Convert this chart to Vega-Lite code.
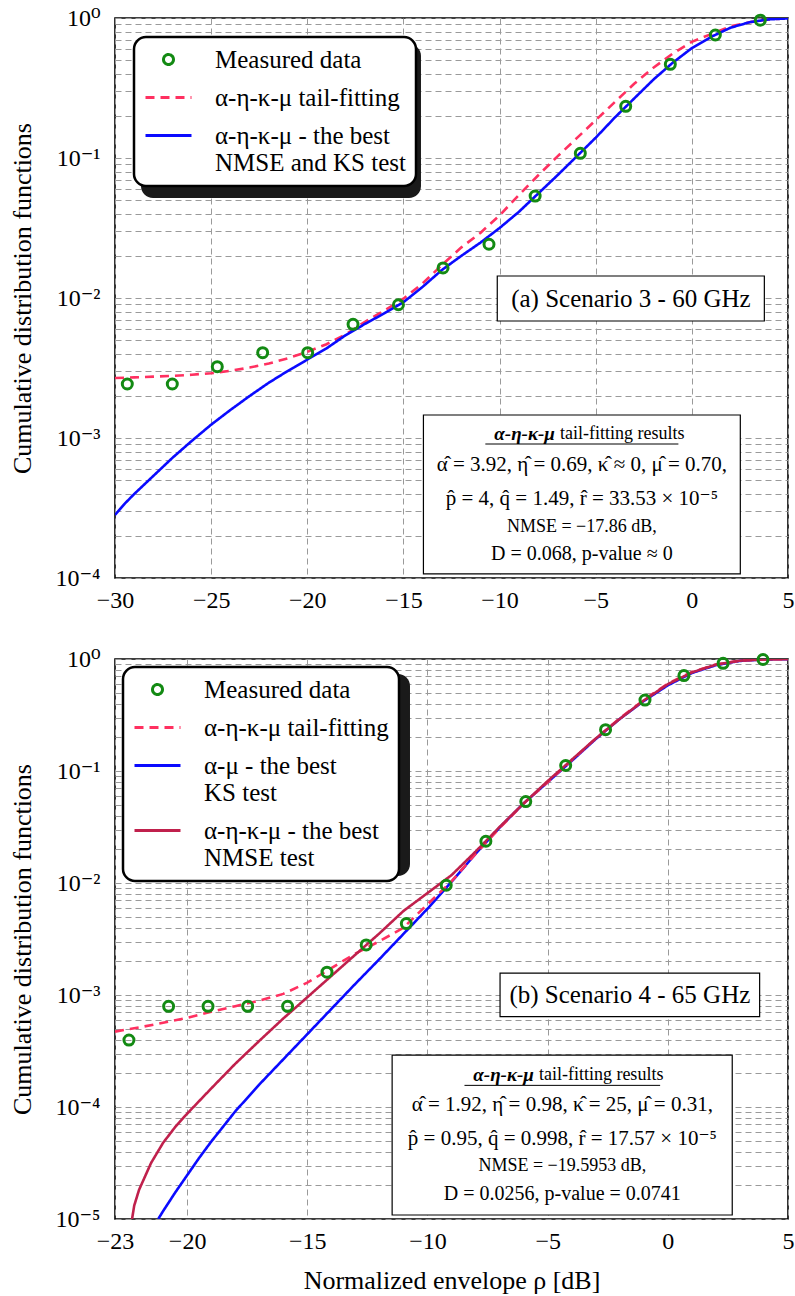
{
  "$schema": "https://vega.github.io/schema/vega-lite/v6.json",
  "padding": {"left": 9, "top": 5, "right": 5, "bottom": 5},
  "config": {
    "font": "Liberation Serif, Times New Roman, DejaVu Serif, serif",
    "view": {"stroke": "black", "strokeWidth": 1.6},
    "axis": {
      "labelFont": "Liberation Serif, Times New Roman, DejaVu Serif, serif", "labelFontSize": 24, "labelColor": "black",
      "titleFont": "Liberation Serif, Times New Roman, DejaVu Serif, serif", "titleFontSize": 26, "titleFontWeight": "normal", "titleColor": "black",
      "domain": false, "ticks": false, "grid": true, "gridColor": "#9a9a9a", "gridDash": [6, 4], "gridWidth": 1,
      "labelFlush": false, "labelOverlap": false
    },
    "legend": {
      "labelFont": "Liberation Serif, Times New Roman, DejaVu Serif, serif", "labelFontSize": 25, "labelColor": "black",
      "strokeColor": "black", "fillColor": "white", "cornerRadius": 12, "strokeWidth": 2.5,
      "padding": 10, "rowPadding": -6, "labelOffset": 22, "symbolStrokeWidth": 3, "labelLimit": 500
    },
    "text": {"font": "Liberation Serif, Times New Roman, DejaVu Serif, serif"}
  },
  "datasets": {
    "topCurves": [
      {"x": -30, "y": 0.002685, "series": "tail"}, {"x": -29, "y": 0.00271, "series": "tail"}, {"x": -28, "y": 0.002742, "series": "tail"}, {"x": -27, "y": 0.00278, "series": "tail"}, {"x": -26, "y": 0.002831, "series": "tail"}, {"x": -25, "y": 0.002904, "series": "tail"}, {"x": -24, "y": 0.00302, "series": "tail"}, {"x": -23, "y": 0.003184, "series": "tail"}, {"x": -22, "y": 0.003404, "series": "tail"}, {"x": -21, "y": 0.003715, "series": "tail"}, {"x": -20, "y": 0.004121, "series": "tail"}, {"x": -19, "y": 0.004677, "series": "tail"}, {"x": -18, "y": 0.005495, "series": "tail"}, {"x": -17, "y": 0.006761, "series": "tail"}, {"x": -16, "y": 0.008128, "series": "tail"}, {"x": -15, "y": 0.009886, "series": "tail"}, {"x": -14, "y": 0.01274, "series": "tail"}, {"x": -13, "y": 0.01718, "series": "tail"}, {"x": -12, "y": 0.02291, "series": "tail"}, {"x": -11, "y": 0.02917, "series": "tail"}, {"x": -10, "y": 0.0389, "series": "tail"}, {"x": -9, "y": 0.05433, "series": "tail"}, {"x": -8, "y": 0.07499, "series": "tail"}, {"x": -7, "y": 0.1023, "series": "tail"}, {"x": -6, "y": 0.138, "series": "tail"}, {"x": -5, "y": 0.1862, "series": "tail"}, {"x": -4, "y": 0.2512, "series": "tail"}, {"x": -3, "y": 0.3388, "series": "tail"}, {"x": -2, "y": 0.4416, "series": "tail"}, {"x": -1, "y": 0.5559, "series": "tail"}, {"x": 0, "y": 0.6761, "series": "tail"}, {"x": 1, "y": 0.7674, "series": "tail"}, {"x": 2, "y": 0.871, "series": "tail"}, {"x": 3, "y": 0.9333, "series": "tail"}, {"x": 4, "y": 0.9772, "series": "tail"}, {"x": 5, "y": 0.9931, "series": "tail"},
      {"x": -30, "y": 0.0002818, "series": "best"}, {"x": -29.5, "y": 0.0003388, "series": "best"}, {"x": -29, "y": 0.0003981, "series": "best"}, {"x": -28, "y": 0.000537, "series": "best"}, {"x": -27, "y": 0.0007244, "series": "best"}, {"x": -26, "y": 0.000955, "series": "best"}, {"x": -25, "y": 0.001245, "series": "best"}, {"x": -24, "y": 0.001585, "series": "best"}, {"x": -23, "y": 0.001995, "series": "best"}, {"x": -22, "y": 0.002483, "series": "best"}, {"x": -21, "y": 0.00302, "series": "best"}, {"x": -20, "y": 0.003631, "series": "best"}, {"x": -19, "y": 0.004365, "series": "best"}, {"x": -18, "y": 0.005433, "series": "best"}, {"x": -17, "y": 0.006531, "series": "best"}, {"x": -16, "y": 0.007762, "series": "best"}, {"x": -15, "y": 0.009333, "series": "best"}, {"x": -14, "y": 0.01202, "series": "best"}, {"x": -13, "y": 0.01585, "series": "best"}, {"x": -12, "y": 0.01995, "series": "best"}, {"x": -11, "y": 0.02483, "series": "best"}, {"x": -10, "y": 0.03162, "series": "best"}, {"x": -9, "y": 0.04121, "series": "best"}, {"x": -8, "y": 0.05559, "series": "best"}, {"x": -7, "y": 0.07499, "series": "best"}, {"x": -6, "y": 0.1023, "series": "best"}, {"x": -5, "y": 0.1396, "series": "best"}, {"x": -4, "y": 0.195, "series": "best"}, {"x": -3, "y": 0.2661, "series": "best"}, {"x": -2, "y": 0.3631, "series": "best"}, {"x": -1, "y": 0.4786, "series": "best"}, {"x": 0, "y": 0.6095, "series": "best"}, {"x": 1, "y": 0.7328, "series": "best"}, {"x": 2, "y": 0.8511, "series": "best"}, {"x": 3, "y": 0.9333, "series": "best"}, {"x": 4, "y": 0.9772, "series": "best"}, {"x": 5, "y": 0.9931, "series": "best"}
    ],
    "topMeas": [
      {"x": -29.36, "y": 0.00243, "series": "meas"}, {"x": -27.02, "y": 0.00243, "series": "meas"}, {"x": -24.68, "y": 0.00323, "series": "meas"}, {"x": -22.32, "y": 0.00407, "series": "meas"}, {"x": -19.98, "y": 0.00407, "series": "meas"}, {"x": -17.62, "y": 0.00649, "series": "meas"}, {"x": -15.26, "y": 0.00895, "series": "meas"}, {"x": -12.94, "y": 0.0164, "series": "meas"}, {"x": -10.55, "y": 0.0242, "series": "meas"}, {"x": -8.15, "y": 0.0535, "series": "meas"}, {"x": -5.8, "y": 0.108, "series": "meas"}, {"x": -3.44, "y": 0.234, "series": "meas"}, {"x": -1.12, "y": 0.467, "series": "meas"}, {"x": 1.22, "y": 0.756, "series": "meas"}, {"x": 3.56, "y": 0.965, "series": "meas"}
    ],
    "botCurves": [
      {"x": -21.2, "y": 0.00001, "series": "am"}, {"x": -21, "y": 0.00001175, "series": "am"}, {"x": -20.5, "y": 0.00001718, "series": "am"}, {"x": -20, "y": 0.00002455, "series": "am"}, {"x": -19.5, "y": 0.00003508, "series": "am"}, {"x": -19, "y": 0.00004898, "series": "am"}, {"x": -18, "y": 0.0000912, "series": "am"}, {"x": -17, "y": 0.0001585, "series": "am"}, {"x": -16, "y": 0.0002661, "series": "am"}, {"x": -15, "y": 0.0004467, "series": "am"}, {"x": -14, "y": 0.0007499, "series": "am"}, {"x": -13, "y": 0.001259, "series": "am"}, {"x": -12, "y": 0.002089, "series": "am"}, {"x": -11, "y": 0.003508, "series": "am"}, {"x": -10, "y": 0.005888, "series": "am"}, {"x": -9, "y": 0.01023, "series": "am"}, {"x": -8, "y": 0.0182, "series": "am"}, {"x": -7, "y": 0.03126, "series": "am"}, {"x": -6, "y": 0.05129, "series": "am"}, {"x": -5, "y": 0.07943, "series": "am"}, {"x": -4, "y": 0.123, "series": "am"}, {"x": -3, "y": 0.1928, "series": "am"}, {"x": -2, "y": 0.2917, "series": "am"}, {"x": -1, "y": 0.4217, "series": "am"}, {"x": 0, "y": 0.5821, "series": "am"}, {"x": 1, "y": 0.7499, "series": "am"}, {"x": 2, "y": 0.881, "series": "am"}, {"x": 3, "y": 0.9616, "series": "am"}, {"x": 4, "y": 0.9908, "series": "am"}, {"x": 5, "y": 0.9977, "series": "am"},
      {"x": -23, "y": 0.000471, "series": "tail"}, {"x": -22, "y": 0.0005129, "series": "tail"}, {"x": -21, "y": 0.0005649, "series": "tail"}, {"x": -20, "y": 0.0006237, "series": "tail"}, {"x": -19, "y": 0.0007079, "series": "tail"}, {"x": -18, "y": 0.0007943, "series": "tail"}, {"x": -17, "y": 0.0008913, "series": "tail"}, {"x": -16, "y": 0.001023, "series": "tail"}, {"x": -15, "y": 0.001288, "series": "tail"}, {"x": -14, "y": 0.001738, "series": "tail"}, {"x": -13, "y": 0.002344, "series": "tail"}, {"x": -12, "y": 0.00302, "series": "tail"}, {"x": -11, "y": 0.003981, "series": "tail"}, {"x": -10, "y": 0.006457, "series": "tail"}, {"x": -9, "y": 0.01035, "series": "tail"}, {"x": -8, "y": 0.0182, "series": "tail"}, {"x": -7, "y": 0.0309, "series": "tail"}, {"x": -6, "y": 0.05129, "series": "tail"}, {"x": -5, "y": 0.07943, "series": "tail"}, {"x": -4, "y": 0.1245, "series": "tail"}, {"x": -3, "y": 0.195, "series": "tail"}, {"x": -2, "y": 0.2951, "series": "tail"}, {"x": -1, "y": 0.4315, "series": "tail"}, {"x": 0, "y": 0.6026, "series": "tail"}, {"x": 1, "y": 0.7674, "series": "tail"}, {"x": 2, "y": 0.8913, "series": "tail"}, {"x": 3, "y": 0.9661, "series": "tail"}, {"x": 4, "y": 0.9908, "series": "tail"}, {"x": 5, "y": 0.9977, "series": "tail"},
      {"x": -22.29, "y": 0.00001, "series": "aekm"}, {"x": -22.2, "y": 0.00001318, "series": "aekm"}, {"x": -22, "y": 0.0000182, "series": "aekm"}, {"x": -21.5, "y": 0.00003162, "series": "aekm"}, {"x": -21, "y": 0.00004786, "series": "aekm"}, {"x": -20.5, "y": 0.00006607, "series": "aekm"}, {"x": -20, "y": 0.0000871, "series": "aekm"}, {"x": -19, "y": 0.0001462, "series": "aekm"}, {"x": -18, "y": 0.0002427, "series": "aekm"}, {"x": -17, "y": 0.000389, "series": "aekm"}, {"x": -16, "y": 0.0006166, "series": "aekm"}, {"x": -15, "y": 0.000955, "series": "aekm"}, {"x": -14, "y": 0.001479, "series": "aekm"}, {"x": -13, "y": 0.002291, "series": "aekm"}, {"x": -12, "y": 0.003548, "series": "aekm"}, {"x": -11, "y": 0.005623, "series": "aekm"}, {"x": -10, "y": 0.008128, "series": "aekm"}, {"x": -9, "y": 0.01175, "series": "aekm"}, {"x": -8, "y": 0.01905, "series": "aekm"}, {"x": -7, "y": 0.03162, "series": "aekm"}, {"x": -6, "y": 0.05129, "series": "aekm"}, {"x": -5, "y": 0.08128, "series": "aekm"}, {"x": -4, "y": 0.1259, "series": "aekm"}, {"x": -3, "y": 0.195, "series": "aekm"}, {"x": -2, "y": 0.2917, "series": "aekm"}, {"x": -1, "y": 0.4266, "series": "aekm"}, {"x": 0, "y": 0.5957, "series": "aekm"}, {"x": 1, "y": 0.7586, "series": "aekm"}, {"x": 2, "y": 0.8913, "series": "aekm"}, {"x": 3, "y": 0.9661, "series": "aekm"}, {"x": 4, "y": 0.9908, "series": "aekm"}, {"x": 5, "y": 0.9977, "series": "aekm"}
    ],
    "botMeas": [
      {"x": -22.42, "y": 0.000396, "series": "meas"}, {"x": -20.77, "y": 0.000793, "series": "meas"}, {"x": -19.13, "y": 0.000793, "series": "meas"}, {"x": -17.48, "y": 0.000793, "series": "meas"}, {"x": -15.82, "y": 0.000793, "series": "meas"}, {"x": -14.18, "y": 0.0016, "series": "meas"}, {"x": -12.55, "y": 0.0028, "series": "meas"}, {"x": -10.88, "y": 0.00434, "series": "meas"}, {"x": -9.22, "y": 0.00955, "series": "meas"}, {"x": -7.57, "y": 0.0236, "series": "meas"}, {"x": -5.91, "y": 0.0533, "series": "meas"}, {"x": -4.25, "y": 0.112, "series": "meas"}, {"x": -2.59, "y": 0.234, "series": "meas"}, {"x": -0.95, "y": 0.43, "series": "meas"}, {"x": 0.67, "y": 0.711, "series": "meas"}, {"x": 2.3, "y": 0.915, "series": "meas"}, {"x": 3.96, "y": 0.99, "series": "meas"}
    ]
  },
  "spacing": 81,
  "bounds": "flush",
  "resolve": {
    "scale": {"color": "independent", "strokeDash": "independent", "shape": "independent", "size": "independent"},
    "legend": {"color": "independent", "strokeDash": "independent", "shape": "independent", "size": "independent"}
  },
  "vconcat": [
    {
      "width": 673, "height": 560,
      "layer": [
        {
          "data": {"values": [{}]},
          "mark": {"type": "rect", "fill": "#1a1a1a", "cornerRadius": 12},
          "encoding": {"x": {"datum": -28.648}, "x2": {"datum": -14.087}, "y": {"datum": 0.652}, "y2": {"datum": 0.05179}}
        },
        {
          "data": {"name": "topCurves"},
          "mark": {"type": "line", "strokeWidth": 2.6, "clip": true},
          "encoding": {
            "x": {"field": "x", "type": "quantitative", "scale": {"domain": [-30, 5], "nice": false, "zero": false},
                  "axis": {"values": [-30, -25, -20, -15, -10, -5, 0, 5], "title": null, "labelPadding": 10}},
            "y": {"field": "y", "type": "quantitative", "scale": {"type": "log", "domain": [0.0001, 1], "nice": false},
                  "axis": {"title": "Cumulative distribution functions", "labelPadding": 15, "titlePadding": 19,
                           "values": [0.0001, 0.0002, 0.0003, 0.0004, 0.0005, 0.0006, 0.0007, 0.0008, 0.0009, 0.001, 0.002, 0.003, 0.004, 0.005, 0.006, 0.007, 0.008, 0.009, 0.01, 0.02, 0.03, 0.04, 0.05, 0.06, 0.07, 0.08, 0.09, 0.1, 0.2, 0.3, 0.4, 0.5, 0.6, 0.7, 0.8, 0.9, 1],
                           "labelExpr": "datum.value == 1 ? '10⁰' : datum.value == 0.1 ? '10⁻¹' : datum.value == 0.01 ? '10⁻²' : datum.value == 0.001 ? '10⁻³' : datum.value == 0.0001 ? '10⁻⁴' : ''"}},
            "color": {"field": "series", "type": "nominal",
                      "scale": {"domain": ["meas", "tail", "best"], "range": ["#138a13", "#ff3060", "#0a0aff"]},
                      "legend": {"title": null, "orient": "top-left", "offset": 19, "zindex": 1,
                                 "labelExpr": "datum.label == 'meas' ? 'Measured data' : datum.label == 'tail' ? 'α-η-κ-μ tail-fitting' : ['α-η-κ-μ - the best', 'NMSE and KS test']"}},
            "strokeDash": {"field": "series", "type": "nominal",
                           "scale": {"domain": ["meas", "tail", "best"], "range": [[1, 0], [9, 6], [1, 0]]},
                           "legend": {"title": null, "orient": "top-left", "offset": 19, "zindex": 1,
                                      "labelExpr": "datum.label == 'meas' ? 'Measured data' : datum.label == 'tail' ? 'α-η-κ-μ tail-fitting' : ['α-η-κ-μ - the best', 'NMSE and KS test']"}}
          }
        },
        {
          "data": {"name": "topMeas"},
          "mark": {"type": "point", "filled": false, "strokeWidth": 3, "opacity": 1},
          "encoding": {
            "x": {"field": "x", "type": "quantitative"},
            "y": {"field": "y", "type": "quantitative"},
            "color": {"field": "series", "type": "nominal",
                      "scale": {"domain": ["meas", "tail", "best"], "range": ["#138a13", "#ff3060", "#0a0aff"]},
                      "legend": {"title": null, "orient": "top-left", "offset": 19, "zindex": 1,
                                 "labelExpr": "datum.label == 'meas' ? 'Measured data' : datum.label == 'tail' ? 'α-η-κ-μ tail-fitting' : ['α-η-κ-μ - the best', 'NMSE and KS test']"}},
            "shape": {"field": "series", "type": "nominal",
                      "scale": {"domain": ["meas", "tail", "best"], "range": ["circle", "stroke", "stroke"]},
                      "legend": {"title": null, "orient": "top-left", "offset": 19, "zindex": 1,
                                 "labelExpr": "datum.label == 'meas' ? 'Measured data' : datum.label == 'tail' ? 'α-η-κ-μ tail-fitting' : ['α-η-κ-μ - the best', 'NMSE and KS test']"}},
            "size": {"field": "series", "type": "nominal",
                     "scale": {"type": "ordinal", "domain": ["meas", "tail", "best"], "range": [100, 2116, 2116]},
                     "legend": {"title": null, "orient": "top-left", "offset": 19, "zindex": 1,
                                "labelExpr": "datum.label == 'meas' ? 'Measured data' : datum.label == 'tail' ? 'α-η-κ-μ tail-fitting' : ['α-η-κ-μ - the best', 'NMSE and KS test']"}}
          }
        },
        {
          "data": {"values": [{}]},
          "mark": {"type": "rect", "fill": "white", "stroke": "black", "strokeWidth": 1.2},
          "encoding": {"x": {"datum": -10.12}, "x2": {"datum": 3.77}, "y": {"datum": 0.01436}, "y2": {"datum": 0.00685}}
        },
        {
          "data": {"values": [{}]},
          "mark": {"type": "text", "text": "(a) Scenario 3 - 60 GHz", "fontSize": 25, "align": "center", "baseline": "middle", "color": "black"},
          "encoding": {"x": {"datum": -3.17}, "y": {"datum": 0.0099}}
        },
        {
          "data": {"values": [{}]},
          "mark": {"type": "rect", "fill": "white", "stroke": "black", "strokeWidth": 1.2},
          "encoding": {"x": {"datum": -13.96}, "x2": {"datum": 2.52}, "y": {"datum": 0.00146}, "y2": {"datum": 0.000107}}
        },
        {
          "data": {"values": [{}]},
          "mark": {"type": "text", "text": "α-η-κ-μ", "fontSize": 19, "fontStyle": "italic", "fontWeight": "bold", "align": "right", "baseline": "middle", "dx": -1, "color": "black"},
          "encoding": {"x": {"datum": -7.07}, "y": {"datum": 0.001069}}
        },
        {
          "data": {"values": [{}]},
          "mark": {"type": "text", "text": "tail-fitting results", "fontSize": 18, "align": "left", "baseline": "middle", "dx": 4, "color": "black"},
          "encoding": {"x": {"datum": -7.07}, "y": {"datum": 0.001069}}
        },
        {
          "data": {"values": [{}]},
          "mark": {"type": "rule", "stroke": "black", "strokeWidth": 1},
          "encoding": {"x": {"datum": -10.74}, "x2": {"datum": -0.7}, "y": {"datum": 0.000906}}
        },
        {
          "data": {"values": [{}]},
          "mark": {"type": "text", "text": "α̂ = 3.92, η̂ = 0.69, κ̂ ≈ 0, μ̂ = 0.70,", "fontSize": 21, "align": "center", "baseline": "middle", "color": "black"},
          "encoding": {"x": {"datum": -5.72}, "y": {"datum": 0.000641}}
        },
        {
          "data": {"values": [{}]},
          "mark": {"type": "text", "text": "p̂ = 4, q̂ = 1.49, r̂ = 33.53 × 10⁻⁵", "fontSize": 21, "align": "center", "baseline": "middle", "color": "black"},
          "encoding": {"x": {"datum": -5.72}, "y": {"datum": 0.000367}}
        },
        {
          "data": {"values": [{}]},
          "mark": {"type": "text", "text": "NMSE = −17.86 dB,", "fontSize": 18, "align": "center", "baseline": "middle", "color": "black"},
          "encoding": {"x": {"datum": -5.72}, "y": {"datum": 0.000231}}
        },
        {
          "data": {"values": [{}]},
          "mark": {"type": "text", "text": "D = 0.068, p-value ≈ 0", "fontSize": 20, "align": "center", "baseline": "middle", "color": "black"},
          "encoding": {"x": {"datum": -5.72}, "y": {"datum": 0.000148}}
        }
      ]
    },
    {
      "width": 673, "height": 560,
      "layer": [
        {
          "data": {"values": [{}]},
          "mark": {"type": "rect", "fill": "#1a1a1a", "cornerRadius": 12},
          "encoding": {"x": {"datum": -22.376}, "x2": {"datum": -10.727}, "y": {"datum": 0.7347}, "y2": {"datum": 0.011548}}
        },
        {
          "data": {"name": "botCurves"},
          "mark": {"type": "line", "strokeWidth": 2.6, "clip": true},
          "encoding": {
            "x": {"field": "x", "type": "quantitative", "scale": {"domain": [-23, 5], "nice": false, "zero": false},
                  "axis": {"values": [-23, -20, -15, -10, -5, 0, 5], "title": "Normalized envelope ρ [dB]", "labelPadding": 10, "titlePadding": 14}},
            "y": {"field": "y", "type": "quantitative", "scale": {"type": "log", "domain": [0.00001, 1], "nice": false},
                  "axis": {"title": "Cumulative distribution functions", "labelPadding": 15, "titlePadding": 19,
                           "values": [0.00001, 0.00002, 0.00003, 0.00004, 0.00005, 0.00006, 0.00007, 0.00008, 0.00009, 0.0001, 0.0002, 0.0003, 0.0004, 0.0005, 0.0006, 0.0007, 0.0008, 0.0009, 0.001, 0.002, 0.003, 0.004, 0.005, 0.006, 0.007, 0.008, 0.009, 0.01, 0.02, 0.03, 0.04, 0.05, 0.06, 0.07, 0.08, 0.09, 0.1, 0.2, 0.3, 0.4, 0.5, 0.6, 0.7, 0.8, 0.9, 1],
                           "labelExpr": "datum.value == 1 ? '10⁰' : datum.value == 0.1 ? '10⁻¹' : datum.value == 0.01 ? '10⁻²' : datum.value == 0.001 ? '10⁻³' : datum.value == 0.0001 ? '10⁻⁴' : datum.value == 0.00001 ? '10⁻⁵' : ''"}},
            "color": {"field": "series", "type": "nominal",
                      "scale": {"domain": ["meas", "tail", "am", "aekm"], "range": ["#138a13", "#ff3060", "#0a0aff", "#c0204c"]},
                      "legend": {"title": null, "orient": "top-left", "offset": 8, "zindex": 1,
                                 "labelExpr": "datum.label == 'meas' ? 'Measured data' : datum.label == 'tail' ? 'α-η-κ-μ tail-fitting' : datum.label == 'am' ? ['α-μ - the best', 'KS test'] : ['α-η-κ-μ - the best', 'NMSE test']"}},
            "strokeDash": {"field": "series", "type": "nominal",
                           "scale": {"domain": ["meas", "tail", "am", "aekm"], "range": [[1, 0], [9, 6], [1, 0], [1, 0]]},
                           "legend": {"title": null, "orient": "top-left", "offset": 8, "zindex": 1,
                                      "labelExpr": "datum.label == 'meas' ? 'Measured data' : datum.label == 'tail' ? 'α-η-κ-μ tail-fitting' : datum.label == 'am' ? ['α-μ - the best', 'KS test'] : ['α-η-κ-μ - the best', 'NMSE test']"}}
          }
        },
        {
          "data": {"name": "botMeas"},
          "mark": {"type": "point", "filled": false, "strokeWidth": 3, "opacity": 1},
          "encoding": {
            "x": {"field": "x", "type": "quantitative"},
            "y": {"field": "y", "type": "quantitative"},
            "color": {"field": "series", "type": "nominal",
                      "scale": {"domain": ["meas", "tail", "am", "aekm"], "range": ["#138a13", "#ff3060", "#0a0aff", "#c0204c"]},
                      "legend": {"title": null, "orient": "top-left", "offset": 8, "zindex": 1,
                                 "labelExpr": "datum.label == 'meas' ? 'Measured data' : datum.label == 'tail' ? 'α-η-κ-μ tail-fitting' : datum.label == 'am' ? ['α-μ - the best', 'KS test'] : ['α-η-κ-μ - the best', 'NMSE test']"}},
            "shape": {"field": "series", "type": "nominal",
                      "scale": {"domain": ["meas", "tail", "am", "aekm"], "range": ["circle", "stroke", "stroke", "stroke"]},
                      "legend": {"title": null, "orient": "top-left", "offset": 8, "zindex": 1,
                                 "labelExpr": "datum.label == 'meas' ? 'Measured data' : datum.label == 'tail' ? 'α-η-κ-μ tail-fitting' : datum.label == 'am' ? ['α-μ - the best', 'KS test'] : ['α-η-κ-μ - the best', 'NMSE test']"}},
            "size": {"field": "series", "type": "nominal",
                     "scale": {"type": "ordinal", "domain": ["meas", "tail", "am", "aekm"], "range": [100, 2116, 2116, 2116]},
                     "legend": {"title": null, "orient": "top-left", "offset": 8, "zindex": 1,
                                "labelExpr": "datum.label == 'meas' ? 'Measured data' : datum.label == 'tail' ? 'α-η-κ-μ tail-fitting' : datum.label == 'am' ? ['α-μ - the best', 'KS test'] : ['α-η-κ-μ - the best', 'NMSE test']"}}
          }
        },
        {
          "data": {"values": [{}]},
          "mark": {"type": "rect", "fill": "white", "stroke": "black", "strokeWidth": 1.2},
          "encoding": {"x": {"datum": -6.98}, "x2": {"datum": 3.82}, "y": {"datum": 0.00157}, "y2": {"datum": 0.000641}}
        },
        {
          "data": {"values": [{}]},
          "mark": {"type": "text", "text": "(b) Scenario 4 - 65 GHz", "fontSize": 25, "align": "center", "baseline": "middle", "color": "black"},
          "encoding": {"x": {"datum": -1.58}, "y": {"datum": 0.001004}}
        },
        {
          "data": {"values": [{}]},
          "mark": {"type": "rect", "fill": "white", "stroke": "black", "strokeWidth": 1.2},
          "encoding": {"x": {"datum": -11.47}, "x2": {"datum": 2.68}, "y": {"datum": 0.00029}, "y2": {"datum": 0.00001086}}
        },
        {
          "data": {"values": [{}]},
          "mark": {"type": "text", "text": "α-η-κ-μ", "fontSize": 19, "fontStyle": "italic", "fontWeight": "bold", "align": "right", "baseline": "middle", "dx": -1, "color": "black"},
          "encoding": {"x": {"datum": -5.53}, "y": {"datum": 0.000192}}
        },
        {
          "data": {"values": [{}]},
          "mark": {"type": "text", "text": "tail-fitting results", "fontSize": 18, "align": "left", "baseline": "middle", "dx": 4, "color": "black"},
          "encoding": {"x": {"datum": -5.53}, "y": {"datum": 0.000192}}
        },
        {
          "data": {"values": [{}]},
          "mark": {"type": "rule", "stroke": "black", "strokeWidth": 1},
          "encoding": {"x": {"datum": -8.46}, "x2": {"datum": -0.32}, "y": {"datum": 0.000156}}
        },
        {
          "data": {"values": [{}]},
          "mark": {"type": "text", "text": "α̂ = 1.92, η̂ = 0.98, κ̂ = 25, μ̂ = 0.31,", "fontSize": 21, "align": "center", "baseline": "middle", "color": "black"},
          "encoding": {"x": {"datum": -4.39}, "y": {"datum": 0.0001035}}
        },
        {
          "data": {"values": [{}]},
          "mark": {"type": "text", "text": "p̂ = 0.95, q̂ = 0.998, r̂ = 17.57 × 10⁻⁵", "fontSize": 21, "align": "center", "baseline": "middle", "color": "black"},
          "encoding": {"x": {"datum": -4.39}, "y": {"datum": 0.0000513}}
        },
        {
          "data": {"values": [{}]},
          "mark": {"type": "text", "text": "NMSE = −19.5953 dB,", "fontSize": 18, "align": "center", "baseline": "middle", "color": "black"},
          "encoding": {"x": {"datum": -4.39}, "y": {"datum": 0.0000295}}
        },
        {
          "data": {"values": [{}]},
          "mark": {"type": "text", "text": "D = 0.0256, p-value = 0.0741", "fontSize": 20, "align": "center", "baseline": "middle", "color": "black"},
          "encoding": {"x": {"datum": -4.39}, "y": {"datum": 0.0000166}}
        }
      ]
    }
  ]
}
